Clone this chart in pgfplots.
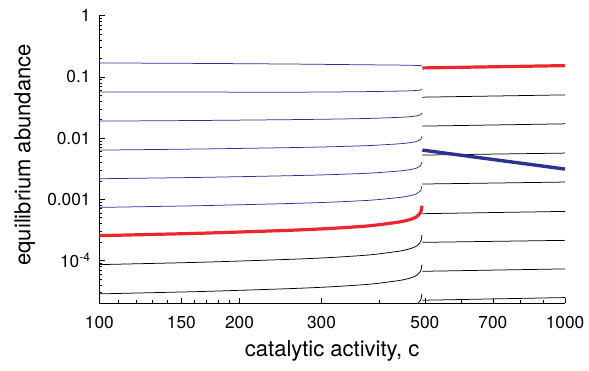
\documentclass[border=0pt]{standalone}
\usepackage{fontspec}
\setmainfont{TeX Gyre Heros}
\usepackage{pgfplots}
\pgfplotsset{compat=1.18}
\definecolor{cblue}{RGB}{45,50,145}
\definecolor{cred}{RGB}{235,40,45}
\begin{document}
\fontsize{17.3}{20}\selectfont
\begin{tikzpicture}
\path[use as bounding box] (-99.3pt,-67.7pt) rectangle (489.7pt,303.3pt);
\begin{axis}[
 scale only axis, width=465.7pt, height=287.6pt,
 xmode=log, ymode=log,
 xmin=100, xmax=1000, ymin=2e-5, ymax=1,
 axis lines*=left,
 tick align=inside,
 major tick length=5.5pt, minor tick length=3pt,
 xtick={100,150,200,300,500,700,1000},
 xticklabels={100,150,200,300,500,700,1000},
 minor xtick={110,120,130,140,160,170,180,190,400,600,800,900},
 ytick={1e-4,1e-3,1e-2,1e-1,1},
 yticklabels={10\textsuperscript{-4},0.001,0.01,0.1,1},
 minor ytick={2e-5,3e-5,4e-5,5e-5,6e-5,7e-5,8e-5,9e-5,2e-4,3e-4,4e-4,5e-4,6e-4,7e-4,8e-4,9e-4,2e-3,3e-3,4e-3,5e-3,6e-3,7e-3,8e-3,9e-3,0.02,0.03,0.04,0.05,0.06,0.07,0.08,0.09,0.2,0.3,0.4,0.5,0.6,0.7,0.8,0.9},
 every tick/.style={black, line width=0.6pt},
 axis line style={black, line width=0.8pt},
 ticklabel style={font=\fontsize{17.3}{20}\selectfont},
 xticklabel style={yshift=-7pt},
 yticklabel style={xshift=-2.8pt},
 xlabel={catalytic activity, c},
 ylabel={equilibrium abundance},
 label style={font=\fontsize{22}{26}\selectfont},
 xlabel style={at={(axis description cs:0.5,-0.166)}, anchor=center},
 ylabel style={at={(axis description cs:-0.16,0.516)}, anchor=center},
 every axis plot/.append style={smooth, tension=0.4},
]
% left branch, blue thin
\addplot[cblue, line width=0.75pt] coordinates {(100,0.1692)(165,0.1661)(257,0.1623)(313,0.1599)(381,0.1575)(442,0.1558)(465,0.1549)(479,0.1540)(488,0.1529)(490.8,0.1523)(493,0.1512)};
\addplot[cblue, line width=0.75pt] coordinates {(100,0.0569)(165,0.05649)(257,0.05628)(313,0.05671)(381,0.05757)(442,0.05866)(465,0.05932)(479,0.05999)(488,0.06091)(490.8,0.06160)(493,0.06253)};
\addplot[cblue, line width=0.75pt] coordinates {(100,0.01894)(165,0.01942)(257,0.02003)(313,0.02041)(381,0.02099)(442,0.02186)(465,0.02241)(479,0.02298)(488,0.02385)(490.8,0.02446)(493,0.02586)};
\addplot[cblue, line width=0.75pt] coordinates {(100,0.006371)(165,0.006641)(257,0.006994)(313,0.007215)(381,0.007560)(442,0.008087)(465,0.008430)(479,0.008789)(488,0.009350)(490.8,0.009747)(493,0.01070)};
\addplot[cblue, line width=0.75pt] coordinates {(100,0.002168)(165,0.002281)(257,0.002432)(313,0.002527)(381,0.002677)(442,0.002908)(465,0.003061)(479,0.003221)(488,0.003477)(490.8,0.003660)(493,0.004106)};
\addplot[cblue, line width=0.75pt] coordinates {(100,7.378e-4)(165,7.875e-4)(257,8.543e-4)(313,8.973e-4)(381,9.654e-4)(442,1.073e-3)(465,1.146e-3)(479,1.223e-3)(488,1.349e-3)(490.8,1.439e-3)(493,1.667e-3)};
% left branch, black thin
\addplot[black, line width=0.75pt] coordinates {(100,8.573e-5)(165,9.367e-5)(257,1.046e-4)(313,1.118e-4)(381,1.236e-4)(442,1.427e-4)(465,1.560e-4)(479,1.704e-4)(488,1.946e-4)(490.8,2.127e-4)(493,2.596e-4)};
\addplot[black, line width=0.75pt] coordinates {(100,2.852e-5)(165,3.114e-5)(257,3.476e-5)(313,3.714e-5)(381,4.101e-5)(442,4.732e-5)(465,5.168e-5)(479,5.643e-5)(488,6.440e-5)(490.8,7.034e-5)(493,8.573e-5)};
\addplot[black, line width=0.75pt] coordinates {(381,1.373e-5)(442,1.586e-5)(465,1.733e-5)(479,1.893e-5)(488,2.162e-5)(490.8,2.362e-5)(493,2.884e-5)};
% right branch, black thin
\addplot[black, line width=0.75pt] coordinates {(494,0.04665)(1000,0.05085)};
\addplot[black, line width=0.75pt] coordinates {(494,0.01570)(1000,0.01711)};
\addplot[black, line width=0.75pt] coordinates {(494,0.005280)(1000,0.005692)};
\addplot[black, line width=0.75pt] coordinates {(494,0.001777)(1000,0.001915)};
\addplot[black, line width=0.75pt] coordinates {(494,5.823e-4)(1000,6.347e-4)};
\addplot[black, line width=0.75pt] coordinates {(494,1.981e-4)(1000,2.135e-4)};
\addplot[black, line width=0.75pt] coordinates {(494,6.666e-5)(1000,7.295e-5)};
\addplot[black, line width=0.75pt] coordinates {(494,2.243e-5)(1000,2.482e-5)};
% thick
\addplot[cred, line width=3.2pt] coordinates {(100,2.548e-4)(165,2.789e-4)(257,3.121e-4)(313,3.339e-4)(381,3.695e-4)(442,4.279e-4)(465,4.683e-4)(479,5.124e-4)(488,5.867e-4)(490.8,6.421e-4)(493,7.865e-4)};
\addplot[cred, line width=3.2pt] coordinates {(494,0.1402)(1000,0.1529)};
\addplot[cblue, line width=3.4pt] coordinates {(494,0.00637)(1000,0.003122)};
\end{axis}
\end{tikzpicture}
\end{document}
